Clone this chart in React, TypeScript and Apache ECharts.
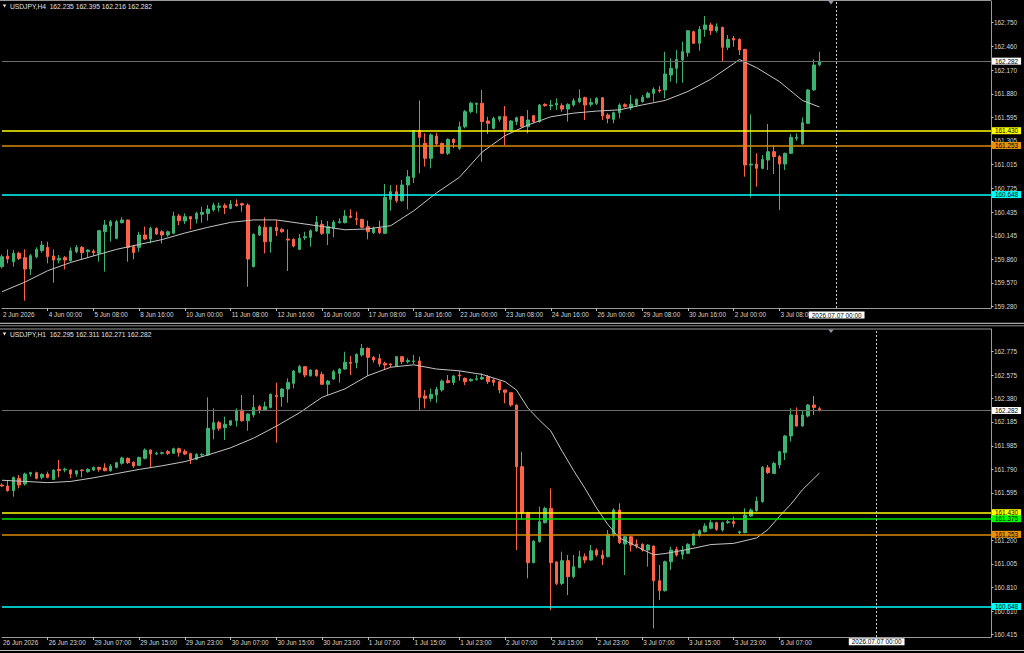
import React, { useEffect, useRef } from "react";
import * as echarts from "echarts";

// ---------- data ----------
const SLOT_COUNT = 174; // bars + empty future slots on each panel
const TICK_STEP = 8;

const h4Title = "USDJPY,H4\u00a0\u00a0162.235 162.395 162.216 162.282";
const h1Title = "USDJPY,H1\u00a0\u00a0162.295 162.311 162.271 162.282";

const h4TimeTicks = [
  "2 Jun 2026", "4 Jun 00:00", "5 Jun 08:00", "8 Jun 16:00", "10 Jun 00:00", "11 Jun 08:00",
  "12 Jun 16:00", "16 Jun 00:00", "17 Jun 08:00", "18 Jun 16:00", "22 Jun 00:00", "23 Jun 08:00",
  "24 Jun 16:00", "26 Jun 00:00", "29 Jun 08:00", "30 Jun 16:00", "2 Jul 00:00", "3 Jul 08:00",
];
const h1TimeTicks = [
  "26 Jun 2026", "26 Jun 23:00", "29 Jun 07:00", "29 Jun 15:00", "29 Jun 23:00", "30 Jun 07:00",
  "30 Jun 15:00", "30 Jun 23:00", "1 Jul 07:00", "1 Jul 15:00", "1 Jul 23:00", "2 Jul 07:00",
  "2 Jul 15:00", "2 Jul 23:00", "3 Jul 07:00", "3 Jul 15:00", "3 Jul 23:00", "6 Jul 07:00",
];

const h4PriceTicks = [159.28, 159.57, 159.86, 160.145, 160.435, 160.725, 161.015, 161.305, 161.595, 161.88, 162.17, 162.46, 162.75];
const h1PriceTicks = [160.415, 160.61, 160.81, 161.005, 161.2, 161.395, 161.595, 161.79, 161.985, 162.185, 162.38, 162.575, 162.775];

const cursorLabel = "2026.07.07 00:00";
const h4CursorSlot = "146";
const h1CursorSlot = "153";

// horizontal levels (current price first)
const h4Levels = [162.282, 161.43, 161.253, 160.648];
const h1Levels = [162.282, 161.43, 161.375, 161.253, 160.648];
const h4LevelKinds = ["price", "yellow", "orange", "cyan"];
const h1LevelKinds = ["price", "yellow", "green", "orange", "cyan"];

// [open, close, low, high]
const h4Candles = [
  [159.769, 159.891, 159.748, 159.919], [159.899, 159.862, 159.809, 159.98], [159.83, 159.932, 159.769, 159.972],
  [159.932, 159.87, 159.85, 159.952], [159.879, 159.74, 159.353, 159.98], [159.74, 159.903, 159.667, 159.924],
  [159.891, 159.98, 159.87, 160.005], [159.964, 160.033, 159.94, 160.082], [160.005, 159.891, 159.809, 160.074],
  [159.899, 159.85, 159.573, 159.98], [159.85, 159.87, 159.809, 159.911], [159.879, 159.85, 159.736, 159.899],
  [159.842, 159.964, 159.83, 160.005], [159.952, 160.005, 159.932, 160.033], [160.005, 159.94, 159.85, 160.021],
  [159.952, 159.972, 159.883, 159.98], [159.96, 159.94, 159.899, 159.98], [159.932, 160.209, 159.83, 160.217],
  [160.196, 160.278, 159.708, 160.339], [160.266, 160.319, 160.074, 160.339], [160.115, 160.319, 160.103, 160.339],
  [160.306, 160.339, 160.298, 160.372], [160.339, 160.005, 159.83, 160.345], [160.013, 159.94, 159.858, 160.033],
  [160.005, 160.156, 159.952, 160.196], [160.156, 160.107, 160.094, 160.258], [160.107, 160.237, 160.054, 160.258],
  [160.237, 160.168, 160.156, 160.25], [160.196, 160.156, 160.054, 160.217], [160.156, 160.196, 160.135, 160.209],
  [160.176, 160.388, 160.168, 160.441], [160.388, 160.331, 160.278, 160.412], [160.327, 160.38, 160.29, 160.42],
  [160.38, 160.351, 160.225, 160.388], [160.351, 160.42, 160.298, 160.441], [160.408, 160.433, 160.306, 160.502],
  [160.42, 160.473, 160.331, 160.522], [160.461, 160.522, 160.441, 160.551], [160.494, 160.51, 160.441, 160.551],
  [160.514, 160.49, 160.412, 160.543], [160.481, 160.534, 160.469, 160.583], [160.534, 160.514, 160.502, 160.591],
  [160.538, 160.522, 160.441, 160.551], [160.522, 159.862, 159.524, 160.543], [159.769, 160.164, 159.761, 160.176],
  [160.156, 160.258, 160.143, 160.278], [160.25, 160.074, 159.932, 160.372], [160.074, 160.25, 159.94, 160.258],
  [160.25, 160.209, 160.143, 160.339], [160.225, 160.196, 160.184, 160.237], [160.107, 160.094, 159.716, 160.225],
  [160.103, 160.021, 160.005, 160.115], [159.98, 160.115, 159.972, 160.168], [160.123, 160.135, 160.094, 160.196],
  [160.127, 160.209, 160.013, 160.225], [160.205, 160.315, 160.196, 160.388], [160.286, 160.176, 160.156, 160.339],
  [160.176, 160.258, 160.033, 160.327], [160.237, 160.315, 160.127, 160.339], [160.306, 160.319, 160.298, 160.36],
  [160.306, 160.388, 160.298, 160.461], [160.388, 160.372, 160.36, 160.469], [160.355, 160.347, 160.278, 160.441],
  [160.347, 160.25, 160.237, 160.355], [160.258, 160.196, 160.103, 160.331], [160.184, 160.237, 160.168, 160.258],
  [160.237, 160.184, 160.168, 160.331], [160.176, 160.616, 160.168, 160.779], [160.591, 160.685, 160.453, 160.767],
  [160.685, 160.575, 160.551, 160.767], [160.575, 160.767, 160.563, 160.828], [160.767, 160.868, 160.469, 160.95],
  [160.86, 161.431, 160.79, 161.44], [161.431, 161.349, 160.909, 161.8], [161.276, 161.093, 160.991, 161.398],
  [161.093, 161.378, 160.97, 161.398], [161.365, 161.268, 161.235, 161.406], [161.276, 161.154, 161.146, 161.284],
  [161.154, 161.325, 161.133, 161.337], [161.325, 161.284, 161.215, 161.337], [161.215, 161.479, 161.194, 161.541],
  [161.479, 161.663, 161.459, 161.683], [161.663, 161.765, 161.642, 161.785], [161.752, 161.765, 161.642, 161.773],
  [161.765, 161.541, 161.052, 161.928], [161.549, 161.52, 161.39, 161.602], [161.459, 161.581, 161.447, 161.602],
  [161.569, 161.602, 161.541, 161.61], [161.602, 161.439, 161.255, 161.732], [161.439, 161.549, 161.418, 161.561],
  [161.541, 161.589, 161.5, 161.602], [161.602, 161.479, 161.47, 161.61], [161.479, 161.561, 161.398, 161.683],
  [161.614, 161.541, 161.528, 161.622], [161.541, 161.744, 161.528, 161.756], [161.752, 161.736, 161.724, 161.765],
  [161.732, 161.744, 161.683, 161.805], [161.744, 161.765, 161.683, 161.826], [161.736, 161.695, 161.663, 161.765],
  [161.695, 161.752, 161.541, 161.765], [161.744, 161.797, 161.724, 161.826], [161.785, 161.826, 161.765, 161.936],
  [161.834, 161.744, 161.561, 161.846], [161.752, 161.773, 161.724, 161.826], [161.765, 161.826, 161.744, 161.838],
  [161.834, 161.61, 161.561, 161.838], [161.622, 161.581, 161.52, 161.642], [161.569, 161.65, 161.52, 161.663],
  [161.65, 161.744, 161.581, 161.765], [161.748, 161.728, 161.712, 161.765], [161.712, 161.756, 161.683, 161.866],
  [161.744, 161.813, 161.724, 161.826], [161.785, 161.838, 161.773, 161.866], [161.838, 161.887, 161.826, 161.907],
  [161.887, 161.936, 161.785, 161.96], [161.928, 161.915, 161.895, 161.976], [161.928, 162.123, 161.826, 162.396],
  [162.111, 162.192, 162.029, 162.314], [162.192, 162.302, 162.009, 162.416], [162.294, 162.396, 162.017, 162.518],
  [162.384, 162.652, 162.335, 162.661], [162.64, 162.498, 162.49, 162.652], [162.498, 162.669, 162.408, 162.709],
  [162.669, 162.722, 162.579, 162.832], [162.722, 162.652, 162.6, 162.75], [162.652, 162.701, 162.628, 162.742],
  [162.693, 162.449, 162.274, 162.701], [162.449, 162.547, 162.416, 162.6], [162.559, 162.538, 162.457, 162.587],
  [162.547, 162.416, 162.355, 162.559], [162.424, 161.011, 160.868, 162.43], [161.011, 161.023, 160.616, 161.63],
  [161.023, 160.97, 160.746, 161.154], [160.97, 161.08, 160.958, 161.133], [161.072, 161.174, 160.95, 161.512],
  [161.174, 161.113, 160.901, 161.255], [161.113, 161.023, 160.461, 161.133], [161.023, 161.154, 160.95, 161.162],
  [161.154, 161.349, 161.146, 161.39], [161.337, 161.349, 161.308, 161.398], [161.268, 161.528, 161.26, 161.593],
  [161.52, 161.928, 161.512, 161.94], [161.928, 162.233, 161.919, 162.302], [162.235, 162.282, 162.216, 162.395],
];

const h1Candles = [
  [161.66, 161.652, 161.646, 161.674], [161.652, 161.613, 161.605, 161.702], [161.613, 161.724, 161.563, 161.73],
  [161.716, 161.66, 161.632, 161.743], [161.669, 161.752, 161.655, 161.763], [161.752, 161.763, 161.73, 161.771],
  [161.763, 161.716, 161.707, 161.771], [161.724, 161.749, 161.707, 161.757], [161.752, 161.724, 161.716, 161.771],
  [161.707, 161.785, 161.702, 161.791], [161.791, 161.78, 161.724, 161.868], [161.785, 161.791, 161.766, 161.804],
  [161.785, 161.752, 161.716, 161.791], [161.752, 161.779, 161.73, 161.785], [161.785, 161.78, 161.724, 161.791],
  [161.771, 161.791, 161.763, 161.799], [161.785, 161.807, 161.777, 161.813], [161.807, 161.791, 161.771, 161.813],
  [161.802, 161.78, 161.774, 161.841], [161.78, 161.818, 161.771, 161.835], [161.807, 161.846, 161.799, 161.854],
  [161.841, 161.885, 161.829, 161.896], [161.882, 161.846, 161.835, 161.89], [161.849, 161.818, 161.802, 161.857],
  [161.824, 161.89, 161.818, 161.896], [161.882, 161.951, 161.874, 161.965], [161.951, 161.918, 161.807, 161.957],
  [161.918, 161.924, 161.91, 161.938], [161.924, 161.929, 161.913, 161.938], [161.938, 161.924, 161.91, 161.951],
  [161.924, 161.962, 161.918, 161.971], [161.962, 161.932, 161.896, 161.971], [161.94, 161.918, 161.91, 161.957],
  [161.921, 161.877, 161.835, 161.929], [161.874, 161.915, 161.868, 161.924], [161.91, 161.915, 161.896, 161.924],
  [161.91, 162.132, 161.901, 162.39], [162.123, 162.179, 162.04, 162.298], [162.179, 162.132, 162.112, 162.193],
  [162.137, 162.165, 162.035, 162.229], [162.159, 162.195, 162.151, 162.201], [162.195, 162.284, 162.146, 162.298],
  [162.284, 162.195, 162.187, 162.409], [162.195, 162.251, 162.112, 162.256], [162.243, 162.306, 162.223, 162.409],
  [162.312, 162.284, 162.256, 162.326], [162.284, 162.312, 162.279, 162.354], [162.306, 162.415, 162.298, 162.423],
  [162.406, 162.395, 162.012, 162.512], [162.395, 162.459, 162.312, 162.464], [162.459, 162.512, 162.345, 162.548],
  [162.506, 162.609, 162.464, 162.617], [162.598, 162.645, 162.589, 162.659], [162.645, 162.575, 162.556, 162.65],
  [162.57, 162.617, 162.561, 162.622], [162.617, 162.57, 162.561, 162.622], [162.581, 162.498, 162.492, 162.603],
  [162.498, 162.525, 162.409, 162.534], [162.542, 162.603, 162.534, 162.617], [162.589, 162.625, 162.512, 162.631],
  [162.625, 162.681, 162.617, 162.769], [162.681, 162.672, 162.575, 162.733], [162.678, 162.747, 162.631, 162.756],
  [162.742, 162.797, 162.728, 162.833], [162.797, 162.722, 162.567, 162.805], [162.722, 162.7, 162.678, 162.733],
  [162.711, 162.667, 162.645, 162.75], [162.672, 162.659, 162.622, 162.686], [162.667, 162.659, 162.639, 162.672],
  [162.65, 162.728, 162.645, 162.733], [162.728, 162.686, 162.667, 162.733], [162.686, 162.695, 162.672, 162.714],
  [162.686, 162.692, 162.667, 162.742], [162.692, 162.389, 162.284, 162.728], [162.401, 162.381, 162.298, 162.451],
  [162.381, 162.415, 162.354, 162.464], [162.409, 162.456, 162.345, 162.478], [162.451, 162.525, 162.437, 162.539],
  [162.528, 162.512, 162.506, 162.575], [162.512, 162.567, 162.492, 162.575], [162.575, 162.567, 162.528, 162.611],
  [162.548, 162.52, 162.492, 162.556], [162.528, 162.539, 162.52, 162.548], [162.539, 162.545, 162.528, 162.575],
  [162.542, 162.556, 162.534, 162.589], [162.561, 162.52, 162.5, 162.575], [162.534, 162.514, 162.484, 162.548],
  [162.52, 162.451, 162.423, 162.528], [162.451, 162.431, 162.34, 162.451], [162.428, 162.326, 162.312, 162.428],
  [162.326, 161.813, 161.119, 162.33], [161.813, 161.424, 161.369, 161.937], [161.43, 161.014, 160.884, 161.438],
  [161.014, 161.194, 161.009, 161.2], [161.189, 161.355, 161.18, 161.48], [161.347, 161.466, 161.341, 161.48],
  [161.466, 161.014, 160.62, 161.632], [161.02, 160.842, 160.828, 161.025], [160.842, 161.031, 160.828, 161.106],
  [161.031, 160.898, 160.745, 161.078], [160.898, 160.981, 160.884, 161.078], [160.975, 161.064, 160.967, 161.114],
  [161.064, 161.036, 161.009, 161.092], [161.036, 161.114, 161.031, 161.161], [161.119, 161.078, 161.064, 161.133],
  [161.078, 161.05, 160.995, 161.119], [161.064, 161.25, 161.058, 161.286], [161.244, 161.452, 161.23, 161.466],
  [161.452, 161.18, 161.169, 161.508], [161.169, 161.23, 160.912, 161.236], [161.23, 161.161, 161.106, 161.236],
  [161.169, 161.153, 161.133, 161.208], [161.167, 161.119, 161.106, 161.175], [161.119, 161.161, 160.981, 161.169],
  [161.153, 160.864, 160.468, 161.156], [160.864, 160.781, 160.704, 160.995], [160.781, 161.022, 160.773, 161.031],
  [161.022, 161.119, 160.953, 161.147], [161.125, 161.078, 161.064, 161.147], [161.083, 161.114, 161.042, 161.153],
  [161.092, 161.167, 161.086, 161.175], [161.161, 161.253, 161.156, 161.258], [161.242, 161.28, 161.23, 161.291],
  [161.272, 161.319, 161.264, 161.341], [161.3, 161.347, 161.291, 161.369], [161.347, 161.291, 161.28, 161.355],
  [161.286, 161.347, 161.272, 161.355], [161.347, 161.355, 161.336, 161.369], [161.355, 161.341, 161.308, 161.397],
  [161.264, 161.272, 161.253, 161.28], [161.264, 161.411, 161.258, 161.466], [161.402, 161.452, 161.397, 161.466],
  [161.447, 161.527, 161.438, 161.563], [161.522, 161.807, 161.513, 161.818], [161.804, 161.763, 161.752, 161.827],
  [161.757, 161.84, 161.752, 161.854], [161.827, 161.937, 161.799, 161.946], [161.929, 162.068, 161.868, 162.076],
  [162.068, 162.243, 162.021, 162.298], [162.243, 162.151, 162.145, 162.306], [162.151, 162.243, 162.145, 162.284],
  [162.234, 162.326, 162.223, 162.334], [162.326, 162.306, 162.243, 162.401], [162.295, 162.282, 162.271, 162.311],
];

const h4MaPoints = [
  [0, 159.463], [4, 159.58], [8, 159.72], [12, 159.82], [16, 159.9], [20, 159.98], [24, 160.04],
  [28, 160.1], [32, 160.18], [36, 160.25], [40, 160.31], [44, 160.34], [48, 160.34], [52, 160.3],
  [56, 160.26], [60, 160.22], [64, 160.23], [68, 160.27], [72, 160.45], [76, 160.67], [80, 160.86],
  [84, 161.17], [88, 161.37], [92, 161.5], [96, 161.6], [100, 161.645], [104, 161.67], [108, 161.685],
  [112, 161.745], [116, 161.8], [120, 161.91], [124, 162.06], [128, 162.25], [129, 162.3], [132, 162.2],
  [136, 162.03], [140, 161.8], [143, 161.72],
];
const h1MaPoints = [
  [0, 161.7], [4, 161.69], [8, 161.68], [12, 161.69], [16, 161.72], [20, 161.755], [24, 161.79],
  [28, 161.82], [32, 161.855], [36, 161.91], [40, 161.97], [44, 162.05], [48, 162.15], [52, 162.26],
  [56, 162.39], [60, 162.46], [64, 162.57], [68, 162.64], [72, 162.66], [76, 162.625], [80, 162.61],
  [84, 162.58], [88, 162.52], [90, 162.45], [92, 162.3], [94, 162.2], [96, 162.11], [98, 161.94],
  [100, 161.78], [102, 161.63], [104, 161.47], [106, 161.33], [108, 161.22], [110, 161.175],
  [112, 161.125], [114, 161.08], [116, 161.09], [120, 161.125], [124, 161.165], [128, 161.175],
  [132, 161.22], [134, 161.29], [136, 161.4], [138, 161.5], [140, 161.62], [143, 161.76],
];

// ---------- styles ----------
const FONT = "Liberation Sans";
const FS = 6.4;
const TEXT = "#d6d6d6";
const FRAME = "#9a9a9a";
const BULL = "#3cb371";
const BEAR = "#ff6347";
const levelStyle: Record<string, { line: string; box: string; width: number }> = {
  price: { line: "#6c6c6c", box: "#ffffff", width: 1 },
  yellow: { line: "#ffff00", box: "#ffff00", width: 1.5 },
  green: { line: "#00e000", box: "#00ff00", width: 1.5 },
  orange: { line: "#d98a08", box: "#e8920c", width: 1.5 },
  cyan: { line: "#00ffff", box: "#00ffff", width: 1.5 },
};

const slots = Array.from({ length: SLOT_COUNT }, (_, i) => String(i));

function xAxisFor(gridIndex: number, ticks: string[], margin: number) {
  const last = (ticks.length - 1) * TICK_STEP;
  return {
    type: "category",
    gridIndex,
    data: slots,
    boundaryGap: false,
    axisLine: { show: true, lineStyle: { color: FRAME, width: 1 } },
    axisTick: {
      show: true,
      interval: (i: number) => i > 0 && i % TICK_STEP === 0 && i <= last,
      length: 3,
      lineStyle: { color: "#bdbdbd" },
    },
    axisLabel: {
      show: true,
      interval: (i: number) => i % TICK_STEP === 0 && i <= last,
      formatter: (v: string) => ticks[Number(v) / TICK_STEP],
      align: "left",
      margin,
      color: TEXT,
      fontSize: FS,
      fontFamily: FONT,
      padding: [0, 0, 0, 1],
    },
    splitLine: { show: false },
  };
}

function yAxisFor(gridIndex: number, ticks: number[], min: number, max: number) {
  return {
    type: "value",
    gridIndex,
    position: "right",
    min,
    max,
    axisLine: { show: true, lineStyle: { color: FRAME, width: 1 } },
    axisTick: { show: true, customValues: ticks, length: 2.5, lineStyle: { color: "#bdbdbd" } },
    axisLabel: {
      show: true,
      customValues: ticks,
      formatter: (v: number) => Number(v).toFixed(3),
      color: TEXT,
      fontSize: FS,
      fontFamily: FONT,
      margin: 3,
    },
    splitLine: { show: false },
  };
}

function markLinesFor(levels: number[], kinds: string[], cursorSlot: string, cursorDist: number) {
  const items: any[] = levels.map((price, i) => {
    const st = levelStyle[kinds[i]];
    return {
      yAxis: price,
      lineStyle: { color: st.line, width: st.width, type: "solid" },
      label: {
        show: true,
        position: "end",
        distance: 1,
        formatter: () => price.toFixed(3),
        backgroundColor: st.box,
        color: "#000",
        fontSize: FS,
        fontFamily: FONT,
        lineHeight: 7,
        padding: [0, 3, 0, 3],
      },
    };
  });
  items.push({
    xAxis: cursorSlot,
    lineStyle: { color: "#cfcfcf", width: 1, type: [2, 2] },
    label: {
      show: true,
      position: "start",
      distance: cursorDist,
      formatter: cursorLabel,
      backgroundColor: "#ffffff",
      color: "#000",
      fontSize: FS,
      fontFamily: FONT,
      lineHeight: 7,
      padding: [0, 3, 0, 3],
    },
  });
  return { symbol: ["none", "none"], silent: true, animation: false, data: items };
}

function candleSeries(axis: number, data: number[][], mark: any) {
  return {
    type: "candlestick",
    xAxisIndex: axis,
    yAxisIndex: axis,
    data,
    barWidth: 3,
    silent: true,
    itemStyle: { color: BULL, color0: BEAR, borderColor: BULL, borderColor0: BEAR, borderWidth: 1 },
    markLine: mark,
  };
}

function maSeries(axis: number, points: number[][]) {
  return {
    type: "line",
    xAxisIndex: axis,
    yAxisIndex: axis,
    data: points,
    symbol: "none",
    silent: true,
    z: 3,
    lineStyle: { color: "#c4c4c4", width: 1 },
  };
}

function header(y: number, text: string) {
  return [
    { type: "polygon", shape: { points: [[2.7, y - 1.5], [6.3, y - 1.5], [4.5, y + 1.4]] }, style: { fill: "#e6e6e6" } },
    {
      type: "text",
      x: 10,
      y,
      style: { text, fill: "#e2e2e2", fontSize: 6.7, fontFamily: FONT, verticalAlign: "middle" },
    },
  ];
}

function buildOption() {
  return {
    animation: false,
    backgroundColor: "#000000",
    textStyle: { fontFamily: FONT },
    grid: [
      { left: 0, top: 1, width: 991, height: 307 },
      { left: 0, top: 329, width: 991, height: 308 },
    ],
    xAxis: [xAxisFor(0, h4TimeTicks, 3.5), xAxisFor(1, h1TimeTicks, 2)],
    yAxis: [yAxisFor(0, h4PriceTicks, 159.264, 163.015), yAxisFor(1, h1PriceTicks, 160.396, 162.958)],
    series: [
      candleSeries(0, h4Candles, markLinesFor(h4Levels, h4LevelKinds, h4CursorSlot, 3.5)),
      maSeries(0, h4MaPoints),
      candleSeries(1, h1Candles, markLinesFor(h1Levels, h1LevelKinds, h1CursorSlot, 1.3)),
      maSeries(1, h1MaPoints),
    ],
    graphic: [
      { type: "line", shape: { x1: 0, y1: 0.5, x2: 991, y2: 0.5 }, style: { stroke: FRAME, lineWidth: 1 } },
      { type: "line", shape: { x1: 0, y1: 329, x2: 991, y2: 329 }, style: { stroke: FRAME, lineWidth: 1 } },
      { type: "line", shape: { x1: 0, y1: 323.3, x2: 1024, y2: 323.3 }, style: { stroke: "#d4d4d4", lineWidth: 1 } },
      { type: "line", shape: { x1: 0, y1: 325.8, x2: 1024, y2: 325.8 }, style: { stroke: "#8c8c8c", lineWidth: 1 } },
      { type: "line", shape: { x1: 0, y1: 650.5, x2: 1024, y2: 650.5 }, style: { stroke: "#bdbdbd", lineWidth: 1 } },
      { type: "polygon", shape: { points: [[828.3, 1], [833.7, 1], [831, 4.5]] }, style: { fill: "#8e9aa6" } },
      { type: "polygon", shape: { points: [[828.3, 329.5], [833.7, 329.5], [831, 333]] }, style: { fill: "#8e9aa6" } },
      ...header(6, h4Title),
      ...header(334, h1Title),
    ],
  };
}

export default function App() {
  const ref = useRef<HTMLDivElement>(null);
  useEffect(() => {
    if (!ref.current) return;
    const chart = echarts.init(ref.current, undefined, { renderer: "svg" });
    chart.setOption(buildOption() as any);
    return () => chart.dispose();
  }, []);
  return (
    <div
      ref={ref}
      style={{ position: "fixed", left: 0, top: 0, width: 1024, height: 653, background: "#000" }}
    />
  );
}
